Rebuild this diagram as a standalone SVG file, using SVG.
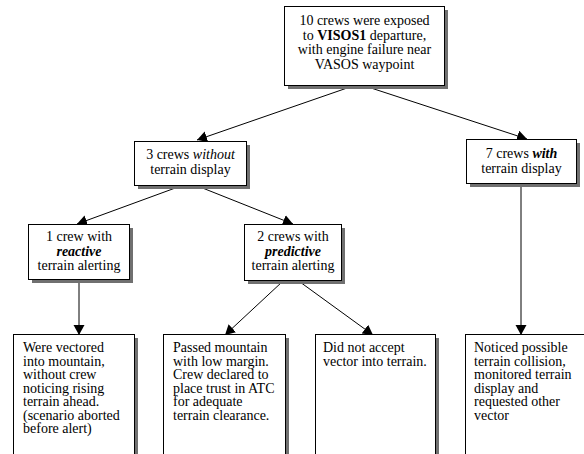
<svg xmlns="http://www.w3.org/2000/svg" width="584" height="454" viewBox="0 0 584 454" font-family="'Liberation Serif', 'Times New Roman', Times, serif" font-size="14">
<defs>
<marker id="arr" markerUnits="userSpaceOnUse" markerWidth="12" markerHeight="12" refX="10" refY="5.5" orient="auto">
<path d="M0,0 L10,5.5 L0,11 Z" fill="#000"/>
</marker>
</defs>
<style>
.box{fill:#fff;stroke:#000;stroke-width:1}
.sh{fill:#707070}
text{font-family:'Liberation Serif','Times New Roman',Times,serif;font-size:14px;fill:#000}
.c{text-anchor:middle}
.edge{stroke:#000;stroke-width:1;fill:none;marker-end:url(#arr)}
</style>
<rect width="584" height="454" fill="#fff"/>
<g id="connectors">
<line class="edge" x1="350" y1="87" x2="197" y2="140"/>
<line class="edge" x1="368" y1="87" x2="527" y2="139"/>
<line class="edge" x1="178" y1="187" x2="77" y2="224"/>
<line class="edge" x1="200" y1="187" x2="293" y2="224"/>
<line class="edge" x1="79" y1="281" x2="79" y2="335"/>
<line class="edge" x1="282" y1="282" x2="225" y2="335"/>
<line class="edge" x1="300" y1="282" x2="373" y2="335"/>
<line class="edge" x1="521" y1="186" x2="521" y2="335"/>
</g>
<g id="n_top">
<rect class="sh" x="288" y="10" width="160" height="79"/>
<rect class="box" x="284.5" y="6.5" width="160" height="79"/>
<text class="c" x="364.5" y="25">10 crews were exposed</text>
<text class="c" x="364.5" y="39.5">to <tspan font-weight="bold">VISOS1</tspan> departure,</text>
<text class="c" x="364.5" y="54">with engine failure near</text>
<text class="c" x="364.5" y="68.5">VASOS waypoint</text>
</g>
<g id="n_without">
<rect class="sh" x="138" y="145" width="112" height="44"/>
<rect class="box" x="134.5" y="141.5" width="112" height="44"/>
<text class="c" x="190.5" y="159">3 crews <tspan font-style="italic">without</tspan></text>
<text class="c" x="190.5" y="174">terrain display</text>
</g>
<g id="n_with">
<rect class="sh" x="470" y="143" width="110" height="44"/>
<rect class="box" x="466.5" y="139.5" width="110" height="44"/>
<text class="c" x="521.5" y="158">7 crews <tspan font-style="italic" font-weight="bold">with</tspan></text>
<text class="c" x="521.5" y="173">terrain display</text>
</g>
<g id="n_reactive">
<rect class="sh" x="32" y="228" width="101" height="55"/>
<rect class="box" x="28.5" y="224.5" width="101" height="55"/>
<text class="c" x="79" y="241">1 crew with</text>
<text class="c" x="79" y="255.5"><tspan font-style="italic" font-weight="bold">reactive</tspan></text>
<text class="c" x="79" y="270">terrain alerting</text>
</g>
<g id="n_predictive">
<rect class="sh" x="248" y="228" width="97" height="56"/>
<rect class="box" x="244.5" y="224.5" width="97" height="56"/>
<text class="c" x="293" y="241">2 crews with</text>
<text class="c" x="293" y="255.5"><tspan font-style="italic" font-weight="bold">predictive</tspan></text>
<text class="c" x="293" y="270">terrain alerting</text>
</g>
<g id="n_out1">
<rect class="sh" x="17" y="338" width="121" height="200"/>
<rect class="box" x="13.5" y="334.5" width="121" height="200"/>
<text x="23" y="352">Were vectored</text>
<text x="23" y="365.5">into mountain,</text>
<text x="23" y="379">without crew</text>
<text x="23" y="392.5">noticing rising</text>
<text x="23" y="406">terrain ahead.</text>
<text x="23" y="419.5">(scenario aborted</text>
<text x="23" y="433">before alert)</text>
</g>
<g id="n_out2">
<rect class="sh" x="167" y="338" width="122" height="200"/>
<rect class="box" x="163.5" y="334.5" width="122" height="200"/>
<text x="173" y="352">Passed mountain</text>
<text x="173" y="365.5">with low margin.</text>
<text x="173" y="379">Crew declared to</text>
<text x="173" y="392.5">place trust in ATC</text>
<text x="173" y="406">for adequate</text>
<text x="173" y="419.5">terrain clearance.</text>
</g>
<g id="n_out3">
<rect class="sh" x="319" y="338" width="120" height="200"/>
<rect class="box" x="315.5" y="334.5" width="120" height="200"/>
<text x="323" y="352">Did not accept</text>
<text x="323" y="365.5">vector into terrain.</text>
</g>
<g id="n_out4">
<rect class="sh" x="469" y="338" width="140" height="200"/>
<rect class="box" x="465.5" y="334.5" width="140" height="200"/>
<text x="474" y="352">Noticed possible</text>
<text x="474" y="365.5">terrain collision,</text>
<text x="474" y="379">monitored terrain</text>
<text x="474" y="392.5">display and</text>
<text x="474" y="406">requested other</text>
<text x="474" y="419.5">vector</text>
</g>
</svg>
